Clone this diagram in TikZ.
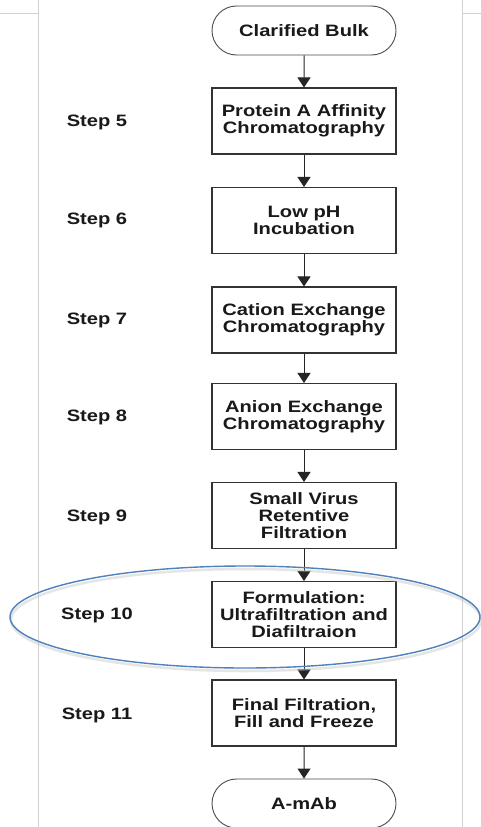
\documentclass[tikz,border=0pt]{standalone}
\usepackage{fontspec}
\setmainfont{Liberation Sans}[FakeStretch=1.22]
\usetikzlibrary{arrows.meta,shapes.misc}
\definecolor{ovalblue}{RGB}{79,129,189}
\begin{document}
\begin{tikzpicture}[x=1pt,y=-1pt,
  every node/.style={font=\bfseries\fontsize{16.5}{16.8}\selectfont, text=black!90},
  procbox/.style={draw=black!80, line width=1.1pt, fill=white, minimum width=184pt, minimum height=66pt, align=center, inner sep=0pt},
  term/.style={draw=black!70, line width=0.9pt, fill=white, rounded rectangle, minimum width=184pt, minimum height=49pt, inner sep=0pt},
  steplbl/.style={anchor=center},
  flow/.style={draw=black!85, line width=1pt, -{Triangle[width=13pt,length=10pt]}},
  pageline/.style={draw=black!18, line width=0.8pt}]
\fill[white] (0,0) rectangle (481,827);
\useasboundingbox (0,0) rectangle (481,827);
\clip (0,0) rectangle (481,827);
% page border lines
\draw[pageline] (38,0) -- (38,827);
\draw[pageline] (462,0) -- (462,827);
\draw[pageline] (0,13) -- (38,13);
\draw[pageline] (462,13) -- (481,13);
% process chain
\node[term] (cb) at (304,30.5) {Clarified Bulk};
\node[procbox] (s5) at (304,121) {Protein A Affinity\\Chromatography};
\node[procbox] (s6) at (304,220.5) {Low pH\\Incubation};
\node[procbox] (s7) at (304,320) {Cation Exchange\\Chromatography};
\node[procbox] (s8) at (304,416.5) {Anion Exchange\\Chromatography};
\node[procbox] (s9) at (304,515.5) {Small Virus\\Retentive\\Filtration};
\node[procbox] (s10) at (304,614.5) {Formulation:\\Ultrafiltration and\\Diafiltraion};
\node[procbox] (s11) at (304,713) {Final Filtration,\\Fill and Freeze};
\node[term] (mab) at (304,803.5) {A-mAb};
\draw[flow] (cb) -- (s5);
\draw[flow] (s5) -- (s6);
\draw[flow] (s6) -- (s7);
\draw[flow] (s7) -- (s8);
\draw[flow] (s8) -- (s9);
\draw[flow] (s9) -- (s10);
\draw[flow] (s10) -- (s11);
\draw[flow] (s11) -- (mab);
% step labels
\node[steplbl] (l5) at (97,122) {Step 5};
\node[steplbl] (l6) at (97,220) {Step 6};
\node[steplbl] (l7) at (97,320) {Step 7};
\node[steplbl] (l8) at (97,417) {Step 8};
\node[steplbl] (l9) at (97,517) {Step 9};
\node[steplbl] (l10) at (97,615) {Step 10};
\node[steplbl] (l11) at (97,715) {Step 11};
% highlight oval with soft shadow
\draw[black!25, line width=2.5pt, opacity=0.4] (246,620) ellipse [x radius=235, y radius=51];
\draw[ovalblue, line width=1.4pt] (245,617) ellipse [x radius=235, y radius=51];
\end{tikzpicture}
\end{document}
